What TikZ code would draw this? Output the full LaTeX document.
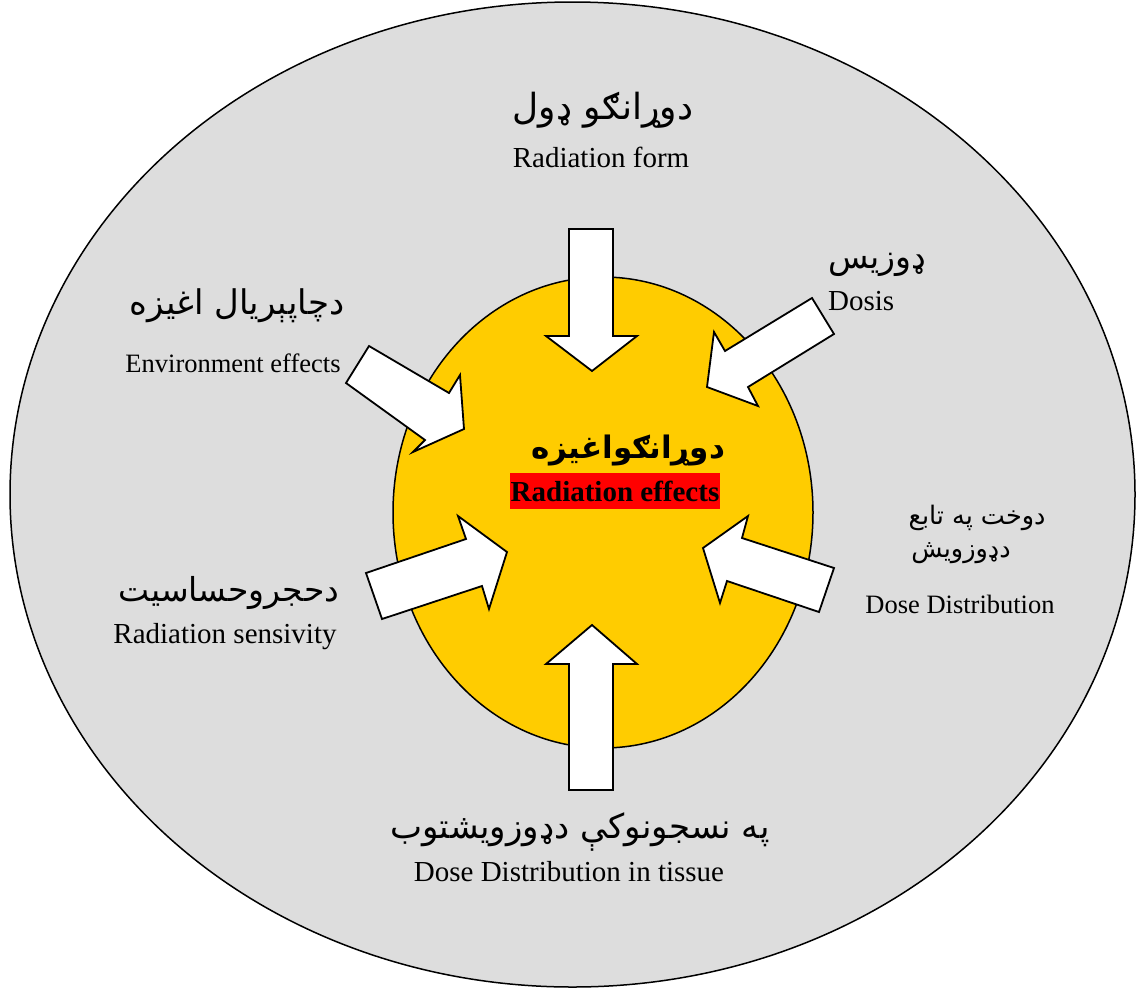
\documentclass[tikz,border=0pt]{standalone}
\usepackage{fontspec}
\setmainfont{Liberation Serif}
\newfontfamily\arabicfont[Script=Arabic]{DejaVu Sans}
\TeXXeTstate=1
\definecolor{outergray}{HTML}{DDDDDD}
\definecolor{innergold}{HTML}{FFCC00}
\newcommand{\arsz}[1]{\arabicfont\fontsize{#1}{#1}\selectfont}
\tikzset{
  blockarrow/.style={draw=black, fill=white, line width=1.8pt, line join=miter},
  ar/.style={inner sep=0pt},
  en/.style={font=\fontsize{29}{33}\selectfont, inner sep=0pt},
  ensmall/.style={font=\fontsize{26.5}{30}\selectfont, inner sep=0pt},
}
\begin{document}
\begin{tikzpicture}[x=1pt,y=-1pt]
\useasboundingbox (0,0) rectangle (1136,989);
\fill[white] (0,0) rectangle (1136,989);
% outer ellipse
\draw[fill=outergray, line width=1.5pt] (572.5,494.5) ellipse [x radius=562.5, y radius=492.5];
% inner ellipse
\draw[fill=innergold, line width=1.5pt] (603,512.5) ellipse [x radius=210, y radius=235.5];

% arrows
\draw[blockarrow] (569,229) -- (613,229) -- (613,336) -- (637,336) -- (592,371) -- (546,336) -- (569,336) -- cycle;
\draw[blockarrow] (569,790) -- (613,790) -- (613,664) -- (637,664) -- (592,625) -- (546,664) -- (569,664) -- cycle;
\draw[blockarrow] (369,346) -- (449,393) -- (460,375) -- (464,429) -- (413,452) -- (425,440) -- (346,383) -- cycle;
\draw[blockarrow] (812,298) -- (834,334) -- (748,387) -- (758,406) -- (707,387) -- (714,332) -- (725,351) -- cycle;
\draw[blockarrow] (366,573) -- (466,539) -- (458,516) -- (507,552) -- (489,609) -- (482,586) -- (382,619) -- cycle;
\draw[blockarrow] (834,568) -- (819,612) -- (727,581) -- (720,603) -- (703,548) -- (748,516) -- (742,538) -- cycle;

% texts
\node[ar, font=\arsz{36}] (formAr) at (603,110) {\beginR دوړانګو ډول\endR};
\node[en] (formEn) at (601,157) {Radiation form};

\node[ar, font=\arsz{34}] (envAr) at (237,306) {\beginR دچاپېریال اغیزه\endR};
\node[ensmall] (envEn) at (233,363) {Environment effects};

\node[ar, anchor=west, font=\arsz{33}] (dosAr) at (828,265) {\beginR ډوزیس\endR};
\node[en, anchor=west] (dosEn) at (828,301) {Dosis};

\node[ar, font=\arsz{31}\bfseries] (effAr) at (628,450) {\beginR دوړانګواغیزه\endR};
\node[font=\bfseries\fontsize{29}{33}\selectfont, fill=red, inner xsep=1pt, inner ysep=0pt, minimum height=36pt] (effEn) at (615,491) {Radiation effects};

\node[ar, font=\arsz{25.5}] (distAr1) at (977,518) {\beginR دوخت په تابع\endR};
\node[ar, font=\arsz{25.5}] (distAr2) at (961,553) {\beginR دډوزویش\endR};
\node[ensmall] (distEn) at (960,604) {Dose Distribution};

\node[ar, font=\arsz{33}] (sensAr) at (229,593) {\beginR دحجروحساسیت\endR};
\node[en] (sensEn) at (225,637) {Radiation sensivity};

\node[ar, font=\arsz{34}] (tisAr) at (580,832) {\beginR په نسجونوکې دډوزویشتوب\endR};
\node[en] (tisEn) at (569,872) {Dose Distribution in tissue};
\end{tikzpicture}
\end{document}
